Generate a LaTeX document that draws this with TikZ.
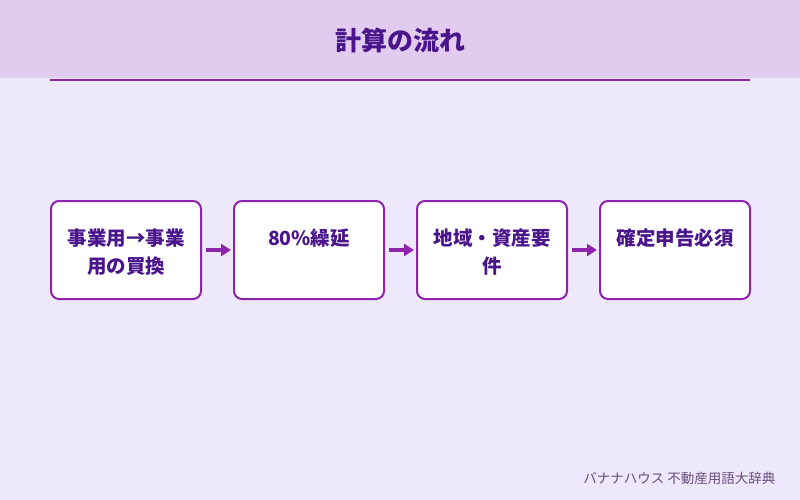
\documentclass[tikz,border=0pt]{standalone}
\usepackage{fontspec}
\setmainfont{Noto Sans CJK JP}
\usetikzlibrary{positioning,arrows.meta}
\definecolor{bgpurple}{HTML}{EEE8FC}
\definecolor{headpurple}{HTML}{E1CCF0}
\definecolor{linepurple}{HTML}{8E24AA}
\definecolor{textpurple}{HTML}{4A148C}
\definecolor{footgray}{HTML}{6A4C7C}

\tikzset{
  flowbox/.style={draw=linepurple, line width=2pt, fill=white, rounded corners=8pt,
    minimum width=150pt, minimum height=98pt, inner sep=0pt},
  flowtext/.style={text=textpurple, font=\bfseries\fontsize{19.5}{28}\selectfont,
    text width=150pt, align=center, anchor=north},
  flow/.style={-{Triangle[length=10pt,width=12pt]}, draw=linepurple, line width=3.5pt,
    shorten <=4pt, shorten >=2pt}
}

\begin{document}
\begin{tikzpicture}[x=1pt, y=-1pt]
    \fill[bgpurple] (0,0) rectangle (800,500);
    \fill[headpurple] (0,0) rectangle (800,78);
    \draw[linepurple, line width=1.5pt] (50,80) -- (750,80);
    \node[text=textpurple, font=\bfseries\fontsize{26}{30}\selectfont] (title) at (400,40) {計算の流れ};

    % boxes
    \node[flowbox] (s1) at (126,250) {};
    \node[flowbox] (s2) at (309,250) {};
    \node[flowbox] (s3) at (492,250) {};
    \node[flowbox] (s4) at (675,250) {};
    \node[flowtext] (t1) at (126,225) {事業用→事業\\用の買換};
    \node[flowtext] (t2) at (309,225) {80\%繰延};
    \node[flowtext] (t3) at (492,225) {地域・資産要\\件};
    \node[flowtext] (t4) at (675,225) {確定申告必須};

    % arrows
    \draw[flow] (s1) -- (s2);
    \draw[flow] (s2) -- (s3);
    \draw[flow] (s3) -- (s4);

    \node[text=footgray, font=\fontsize{13.5}{16}\selectfont, anchor=east] (foot) at (779,478) {バナナハウス 不動産用語大辞典};
\end{tikzpicture}
\end{document}
